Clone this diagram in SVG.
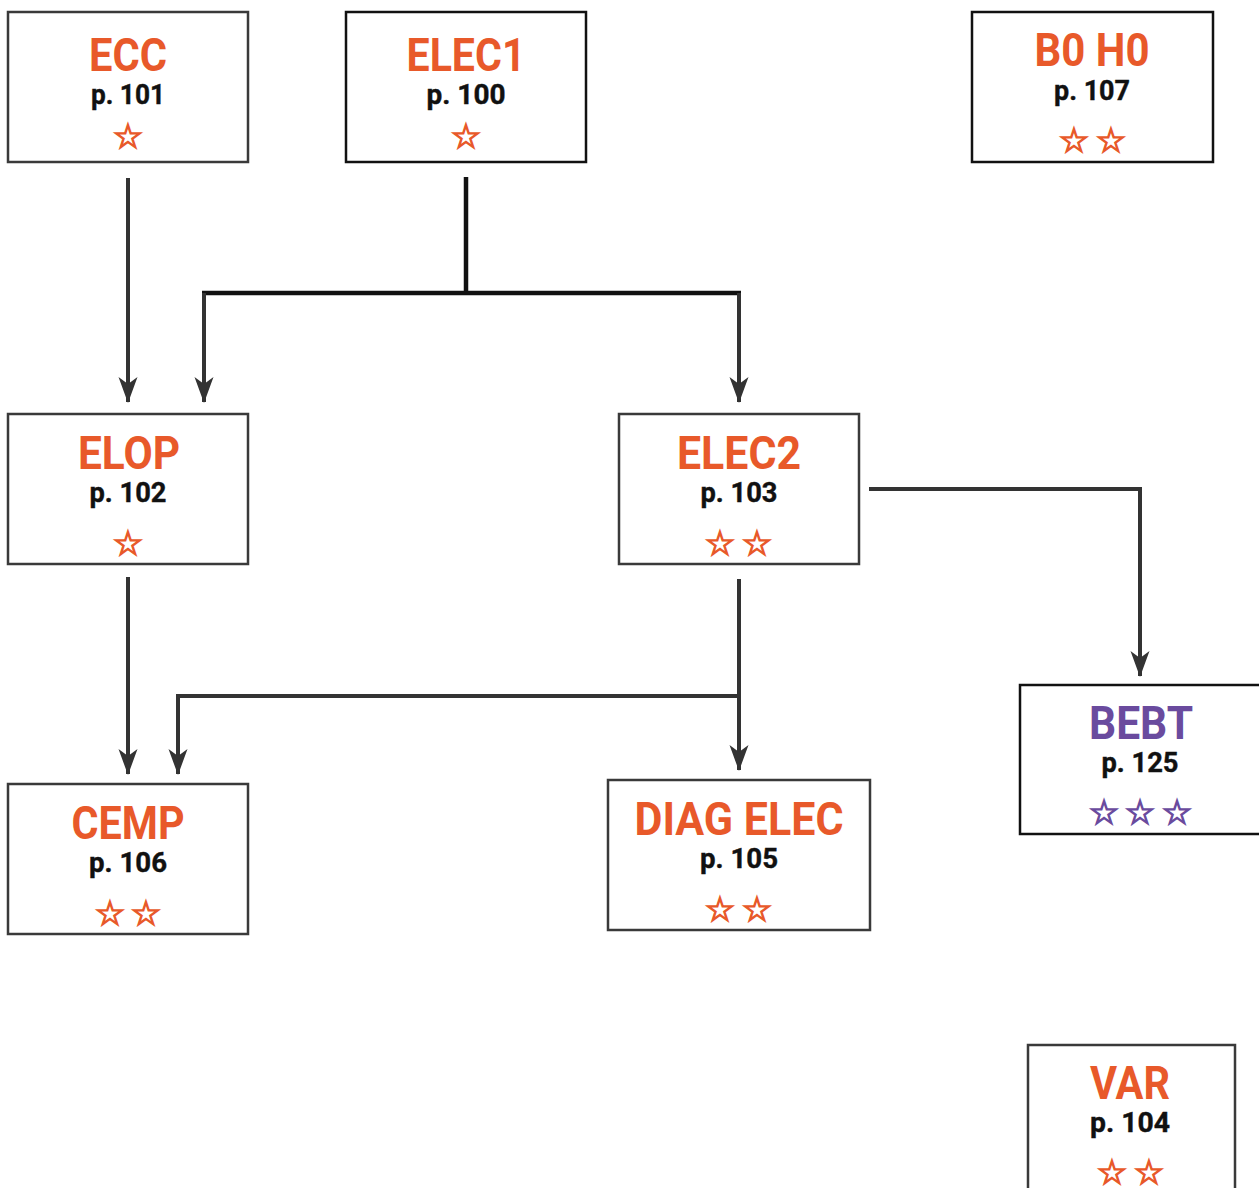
<svg xmlns="http://www.w3.org/2000/svg" width="1259" height="1188" viewBox="0 0 1259 1188">
<style>
.box{fill:#fff;stroke:#3a3a3a;stroke-width:2.5}
.t{font-family:Roboto,"Liberation Sans",sans-serif;font-weight:bold;font-size:46px;fill:#e8592a;text-anchor:middle}
.p{font-family:Roboto,"Liberation Sans",sans-serif;font-weight:bold;font-size:28px;fill:#111;stroke:#111;stroke-width:0.4;text-anchor:middle}
.s{font-family:"DejaVu Sans",sans-serif;font-size:34px;fill:#e8592a;stroke:#e8592a;stroke-width:1.4;text-anchor:middle}
.purple{fill:#6a4b9e;stroke:#6a4b9e}
.c{fill:none;stroke:#333;stroke-width:4;marker-end:url(#ah)}
.c2{fill:none;stroke:#111;stroke-width:4.5}
</style>
<defs>
<marker id="ah" markerUnits="userSpaceOnUse" viewBox="0 0 26 20" refX="25" refY="10" markerWidth="26" markerHeight="20" orient="auto">
<path d="M0,0.5 L26,10 L0,19.5 L7,10 Z" fill="#333"/>
</marker>
</defs>
<g id="connectors">
<path class="c" d="M128,178 V402"/>
<path class="c2" d="M466,177 V293 M202,293 H741"/>
<path class="c" d="M204,293 V402"/>
<path class="c" d="M739,293 V402"/>
<path class="c" d="M869,489 H1140 V676"/>
<path class="c" d="M128,577 V774"/>
<path class="c" d="M739,579 V770"/>
<path class="c" d="M739,696 H178 V774"/>
</g>
<g id="ECC">
<rect class="box" x="8" y="12" width="240" height="150"/>
<text class="t" x="128" y="71" textLength="78" lengthAdjust="spacingAndGlyphs">ECC</text>
<text class="p" x="128" y="104" textLength="74" lengthAdjust="spacingAndGlyphs">p. 101</text>
<text class="s" x="128" y="148">☆</text>
</g>
<g id="ELEC1">
<rect class="box" x="346" y="12" width="240" height="150" style="stroke:#111"/>
<text class="t" x="466" y="71" textLength="119" lengthAdjust="spacingAndGlyphs">ELEC1</text>
<text class="p" x="466" y="104" textLength="79" lengthAdjust="spacingAndGlyphs">p. 100</text>
<text class="s" x="466" y="148">☆</text>
</g>
<g id="B0H0">
<rect class="box" x="972" y="12" width="241" height="150" style="stroke:#111"/>
<text class="t" x="1092" y="66" textLength="115" lengthAdjust="spacingAndGlyphs">B0 H0</text>
<text class="p" x="1092" y="100" textLength="76" lengthAdjust="spacingAndGlyphs">p. 107</text>
<text class="s" x="1074 1111" y="152">☆☆</text>
</g>
<g id="ELOP">
<rect class="box" x="8" y="414" width="240" height="150"/>
<text class="t" x="129" y="469" textLength="102" lengthAdjust="spacingAndGlyphs">ELOP</text>
<text class="p" x="128" y="502" textLength="77" lengthAdjust="spacingAndGlyphs">p. 102</text>
<text class="s" x="128" y="555">☆</text>
</g>
<g id="ELEC2">
<rect class="box" x="619" y="414" width="240" height="150"/>
<text class="t" x="739" y="469" textLength="124" lengthAdjust="spacingAndGlyphs">ELEC2</text>
<text class="p" x="739" y="502" textLength="77" lengthAdjust="spacingAndGlyphs">p. 103</text>
<text class="s" x="720 757" y="555">☆☆</text>
</g>
<g id="BEBT">
<rect class="box" x="1020" y="685" width="250" height="149" style="stroke:#111"/>
<text class="t" x="1141" y="739" textLength="104" lengthAdjust="spacingAndGlyphs" style="fill:#6a4b9e">BEBT</text>
<text class="p" x="1140" y="772" textLength="77" lengthAdjust="spacingAndGlyphs">p. 125</text>
<text class="s purple" x="1104 1140 1177" y="824">☆☆☆</text>
</g>
<g id="CEMP">
<rect class="box" x="8" y="784" width="240" height="150"/>
<text class="t" x="128" y="839" textLength="113" lengthAdjust="spacingAndGlyphs">CEMP</text>
<text class="p" x="128" y="872" textLength="78" lengthAdjust="spacingAndGlyphs">p. 106</text>
<text class="s" x="110 146" y="925">☆☆</text>
</g>
<g id="DIAG_ELEC">
<rect class="box" x="608" y="780" width="262" height="150"/>
<text class="t" x="739" y="835" textLength="209" lengthAdjust="spacingAndGlyphs">DIAG ELEC</text>
<text class="p" x="739" y="868" textLength="78" lengthAdjust="spacingAndGlyphs">p. 105</text>
<text class="s" x="720 757" y="921">☆☆</text>
</g>
<g id="VAR">
<rect class="box" x="1028" y="1045" width="207" height="160"/>
<text class="t" x="1130" y="1099" textLength="80" lengthAdjust="spacingAndGlyphs">VAR</text>
<text class="p" x="1130" y="1132" textLength="80" lengthAdjust="spacingAndGlyphs">p. 104</text>
<text class="s" x="1112 1149" y="1184">☆☆</text>
</g>
</svg>
